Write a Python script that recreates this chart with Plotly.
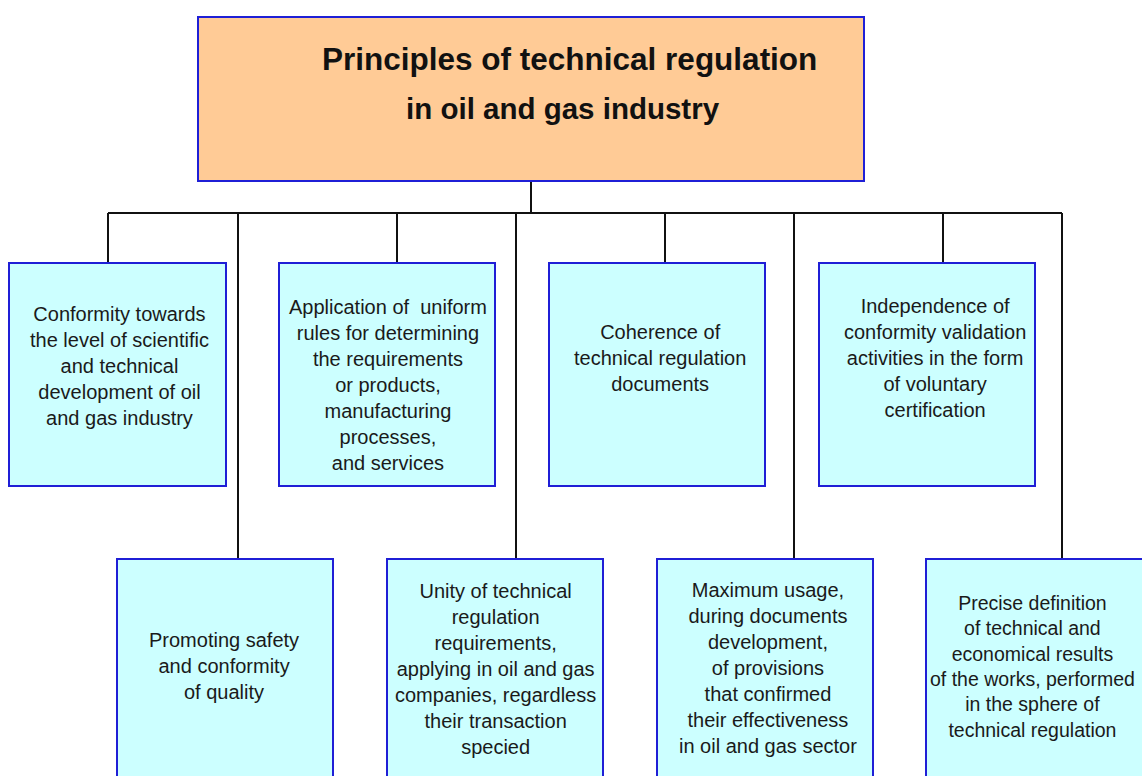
import plotly.graph_objects as go

# ---- content ----
title_lines = ["Principles of technical regulation", "in oil and gas industry"]

top_labels = [
    "Conformity towards<br>the level of scientific<br>and technical<br>development of oil<br>and gas industry",
    "Application of  uniform<br>rules for determining<br>the requirements<br>or products,<br>manufacturing<br>processes,<br>and services",
    "Coherence of<br>technical regulation<br>documents",
    "Independence of<br>conformity validation<br>activities in the form<br>of voluntary<br>certification",
]
bottom_labels = [
    "Promoting safety<br>and conformity<br>of quality",
    "Unity of technical<br>regulation<br>requirements,<br>applying in oil and gas<br>companies, regardless<br>their transaction<br>specied",
    "Maximum usage,<br>during documents<br>development,<br>of provisions<br>that confirmed<br>their effectiveness<br>in oil and gas sector",
    "Precise definition<br>of technical and<br>economical results<br>of the works, performed<br>in the sphere of<br>technical regulation",
]

# ---- layout geometry (pixels, y down) ----
W, H = 1142, 776
head_box = (198, 17, 864, 181)
title_pos = [(569, 59), (563, 108)]
title_sizes = [31.5, 29.5]
bus_y = 213
stem_x = 531
top_boxes = [(9, 263, 226, 486), (279, 263, 495, 486), (549, 263, 765, 486), (819, 263, 1035, 486)]
top_conn_x = [108, 397, 665, 943]
top_text = [(119, 366), (388, 385), (660, 358), (935, 358)]
bot_boxes = [(117, 559, 333, 790), (387, 559, 603, 790), (657, 559, 873, 790), (926, 559, 1150, 790)]
bot_conn_x = [238, 516, 794, 1062]
bot_text = [(224, 666), (495, 669), (768, 668), (1032, 666)]

BORDER = "#1f1fd6"
LINE = "#111111"
PEACH = "#FFCB96"
CYAN = "#CCFFFF"

fig = go.Figure()
fig.add_trace(go.Scatter(x=[0, W], y=[0, H], mode="markers", marker=dict(opacity=0), hoverinfo="skip", showlegend=False))

shapes = []
def line(x0, y0, x1, y1):
    shapes.append(dict(type="line", x0=x0, y0=y0, x1=x1, y1=y1, xref="x", yref="y",
                       line=dict(color=LINE, width=2), layer="below"))

line(stem_x, head_box[3], stem_x, bus_y)
line(min(top_conn_x), bus_y, max(bot_conn_x), bus_y)
for x, b in zip(top_conn_x, top_boxes):
    line(x, bus_y, x, b[1])
for x, b in zip(bot_conn_x, bot_boxes):
    line(x, bus_y, x, b[1])

def box(b, fill):
    shapes.append(dict(type="rect", x0=b[0], y0=b[1], x1=b[2], y1=b[3], xref="x", yref="y",
                       fillcolor=fill, line=dict(color=BORDER, width=2), layer="above"))

box(head_box, PEACH)
for b in top_boxes + bot_boxes:
    box(b, CYAN)

annotations = []
for t, (x, y), s in zip(title_lines, title_pos, title_sizes):
    annotations.append(dict(x=x, y=y, xref="x", yref="y", text=f"<b>{t}</b>", showarrow=False,
                            font=dict(family="Liberation Sans, Arial", size=s, color="#111111"),
                            xanchor="center", yanchor="middle"))
for i, (t, (x, y)) in enumerate(zip(top_labels + bottom_labels, top_text + bot_text)):
    annotations.append(dict(x=x, y=y, xref="x", yref="y", text=t, showarrow=False, align="center",
                            font=dict(family="Liberation Sans, Arial", size=19.5 if i == 7 else 20, color="#1a1a1a"),
                            xanchor="center", yanchor="middle"))

fig.update_layout(
    width=W, height=H, margin=dict(l=0, r=0, t=0, b=0),
    paper_bgcolor="white", plot_bgcolor="white",
    xaxis=dict(range=[0, W], visible=False, fixedrange=True),
    yaxis=dict(range=[H, 0], visible=False, fixedrange=True),
    shapes=shapes, annotations=annotations, showlegend=False,
)
fig.write_html("out.html", config={"displayModeBar": False},
               post_script="document.body.style.margin='0';document.body.style.overflow='hidden';")
